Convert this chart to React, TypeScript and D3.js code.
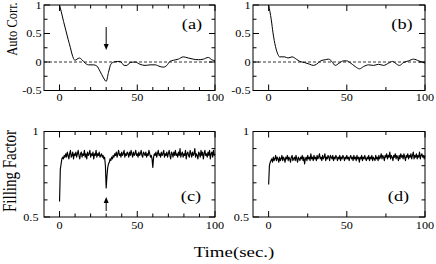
import React from 'react';
import * as d3 from 'd3';

// ---------- data ----------
const acTimeA = [0, 1.3, 2.6, 4, 5.5, 7, 8, 9, 10, 11.2, 12.8, 14.4, 16.5, 18.6, 21.8, 24, 26, 28.3, 30, 31.5, 33, 35, 37.5, 39, 41.6, 43.3, 45.4, 48.6, 51.8, 55, 58.3, 61.5, 64.7, 66.8, 69, 71, 73.2, 76.4, 79.6, 82.8, 86, 89.3, 92.5, 95.7, 97.9, 100];
const acValA = [1, 0.86, 0.71, 0.56, 0.4, 0.25, 0.14, 0.06, 0.03, 0.05, 0.07, 0.04, -0.02, -0.05, -0.05, -0.07, -0.16, -0.28, -0.34, -0.18, -0.04, 0.0, 0.01, 0.01, -0.06, -0.06, -0.01, 0.0, -0.04, -0.06, -0.05, -0.05, -0.08, -0.09, -0.06, 0.01, 0.03, 0.05, 0.09, 0.07, 0.05, 0.04, 0.05, 0.08, 0.04, 0.02];

const acTimeB = [0, 1.7, 2.8, 4.4, 6, 7, 10.3, 12.4, 15, 17.7, 19.9, 23, 26.3, 28.6, 30.6, 33.3, 36.2, 38.3, 40.4, 42.6, 45.1, 47.9, 50, 52, 55.4, 58.1, 60.7, 63.9, 67.1, 70.3, 73.5, 76.7, 79.3, 81, 83.6, 86.3, 89.5, 92.7, 96, 100];
const acValB = [1, 0.74, 0.51, 0.27, 0.13, 0.09, 0.09, 0.07, 0.09, 0.05, 0.01, -0.01, -0.04, -0.06, -0.04, 0.02, 0.04, 0.05, 0.01, -0.06, -0.02, 0.02, 0.02, -0.01, -0.08, -0.12, -0.08, -0.05, -0.06, -0.04, -0.06, -0.02, 0.01, -0.02, -0.06, -0.01, 0.02, 0.05, 0.02, -0.02];

const fillStep = 0.5;
const fillC = [
  0.59, 0.78, 0.81, 0.84, 0.85, 0.84, 0.86, 0.85, 0.87, 0.85,
  0.88, 0.86, 0.84, 0.87, 0.89, 0.85, 0.86, 0.88, 0.84, 0.87,
  0.86, 0.88, 0.85, 0.87, 0.89, 0.86, 0.84, 0.87, 0.88, 0.85,
  0.87, 0.86, 0.89, 0.85, 0.87, 0.84, 0.88, 0.86, 0.87, 0.89,
  0.85, 0.87, 0.86, 0.88, 0.84, 0.87, 0.86, 0.89, 0.85, 0.87,
  0.86, 0.88, 0.85, 0.86, 0.87, 0.85, 0.86, 0.84, 0.85, 0.80,
  0.67, 0.74, 0.79, 0.81, 0.82, 0.84, 0.83, 0.85, 0.84, 0.86,
  0.85, 0.87, 0.86, 0.88, 0.85, 0.87, 0.89, 0.86, 0.87, 0.85,
  0.88, 0.86, 0.87, 0.89, 0.85, 0.87, 0.86, 0.88, 0.87, 0.85,
  0.88, 0.86, 0.89, 0.87, 0.85, 0.88, 0.86, 0.87, 0.89, 0.86,
  0.87, 0.85, 0.88, 0.86, 0.87, 0.89, 0.86, 0.85, 0.88, 0.87,
  0.86, 0.88, 0.85, 0.87, 0.86, 0.89, 0.87, 0.85, 0.86, 0.84,
  0.79, 0.85, 0.87, 0.86, 0.88, 0.85, 0.87, 0.89, 0.86, 0.87,
  0.85, 0.88, 0.86, 0.87, 0.89, 0.85, 0.87, 0.86, 0.88, 0.85,
  0.87, 0.89, 0.86, 0.84, 0.88, 0.87, 0.85, 0.88, 0.86, 0.89,
  0.86, 0.87, 0.85, 0.88, 0.86, 0.90, 0.85, 0.87, 0.88, 0.85,
  0.87, 0.86, 0.89, 0.84, 0.87, 0.88, 0.86, 0.85, 0.89, 0.87,
  0.85, 0.88, 0.86, 0.87, 0.90, 0.85, 0.87, 0.86, 0.84, 0.88,
  0.87, 0.85, 0.89, 0.86, 0.88, 0.84, 0.87, 0.89, 0.86, 0.87,
  0.85, 0.88, 0.86, 0.89, 0.84, 0.87, 0.88, 0.85, 0.89, 0.86,
  0.87,
];
const fillD = [
  0.69, 0.80, 0.82, 0.83, 0.84, 0.82, 0.85, 0.83, 0.84, 0.86,
  0.83, 0.85, 0.84, 0.82, 0.85, 0.83, 0.84, 0.86, 0.83, 0.85,
  0.84, 0.82, 0.85, 0.84, 0.86, 0.83, 0.85, 0.84, 0.82, 0.85,
  0.86, 0.83, 0.84, 0.85, 0.83, 0.86, 0.84, 0.82, 0.85, 0.84,
  0.83, 0.85, 0.84, 0.86, 0.83, 0.85, 0.81, 0.84, 0.85, 0.83,
  0.86, 0.84, 0.85, 0.83, 0.87, 0.84, 0.85, 0.83, 0.86, 0.84,
  0.85, 0.83, 0.86, 0.84, 0.85, 0.87, 0.84, 0.85, 0.83, 0.86,
  0.84, 0.85, 0.87, 0.83, 0.85, 0.84, 0.86, 0.85, 0.83, 0.86,
  0.85, 0.84, 0.86, 0.83, 0.85, 0.84, 0.86, 0.85, 0.83, 0.85,
  0.84, 0.86, 0.83, 0.85, 0.84, 0.86, 0.85, 0.83, 0.85, 0.84,
  0.86, 0.84, 0.85, 0.83, 0.85, 0.86, 0.84, 0.85, 0.83, 0.86,
  0.84, 0.85, 0.83, 0.86, 0.84, 0.85, 0.82, 0.85, 0.84, 0.86,
  0.83, 0.85, 0.84, 0.86, 0.84, 0.83, 0.85, 0.84, 0.86, 0.83,
  0.85, 0.84, 0.86, 0.83, 0.85, 0.84, 0.83, 0.86, 0.84, 0.85,
  0.83, 0.86, 0.84, 0.85, 0.87, 0.84, 0.86, 0.85, 0.83, 0.86,
  0.85, 0.87, 0.84, 0.86, 0.85, 0.88, 0.84, 0.86, 0.85, 0.83,
  0.86, 0.85, 0.87, 0.84, 0.86, 0.85, 0.83, 0.86, 0.84, 0.87,
  0.85, 0.86, 0.84, 0.87, 0.85, 0.83, 0.86, 0.85, 0.87, 0.84,
  0.86, 0.85, 0.87, 0.84, 0.86, 0.88, 0.84, 0.86, 0.85, 0.87,
  0.84, 0.86, 0.85, 0.88, 0.84, 0.86, 0.87, 0.85, 0.86, 0.84,
  0.86,
];

const acYLabels = [-0.5, 0, 0.5, 1];
const acYMinor = [-0.25, 0.25, 0.75];
const ffYLabels = [0.5, 1];
const ffYMinor = [0.6, 0.7, 0.8, 0.9];
const xLabels = [0, 50, 100];
const xMinorAC = [10, 20, 30, 40, 60, 70, 80, 90];
const xMinorBD = [25, 75];
const panelLabels = ['(a)', '(b)', '(c)', '(d)'];
const arrowTime = 30;
const yTitleTop = 'Auto Corr.';
const yTitleBottom = 'Filling Factor';
const xTitle = 'Time(sec.)';

// ---------- layout ----------
const W = 436;
const H = 264;
const SX = 1.22; // horizontal text stretch of the reference
const FONT = '"Liberation Serif", "Times New Roman", serif';

type Pt = [number, number];

function T({ x, y, anchor = 'middle', size = 10, rotate = false, children }: any) {
  const tr = rotate
    ? `translate(${x},${y}) scale(${SX},1) rotate(-90)`
    : `translate(${x},${y}) scale(${SX},1)`;
  return (
    <text transform={tr} textAnchor={anchor} fontSize={size} fontFamily={FONT} fontWeight="normal" fill="#000">
      {children}
    </text>
  );
}

function Panel({ box, yDomain, yLabels, yMinor, xMinor, data, label, labelX, labelY, dashedZero, arrow, smooth, yLabelRight, xLabelBase }: any) {
  const [x0, x1, y0, y1] = box;
  const xs = d3.scaleLinear().domain([-10, 100]).range([x0, x1]);
  const ys = d3.scaleLinear().domain(yDomain).range([y1, y0]);
  const line = d3
    .line<Pt>()
    .x((d) => xs(d[0]))
    .y((d) => ys(d[1]))
    .curve(smooth ? d3.curveMonotoneX : d3.curveLinear);
  const majLen = 6;
  const minLen = 3.5;
  const ticks: any[] = [];
  xLabels.forEach((v: number) => {
    ticks.push(<line key={'xb' + v} x1={xs(v)} x2={xs(v)} y1={y1} y2={y1 - majLen} />);
    ticks.push(<line key={'xt' + v} x1={xs(v)} x2={xs(v)} y1={y0} y2={y0 + majLen} />);
  });
  xMinor.forEach((v: number) => {
    ticks.push(<line key={'xmb' + v} x1={xs(v)} x2={xs(v)} y1={y1} y2={y1 - minLen} />);
    ticks.push(<line key={'xmt' + v} x1={xs(v)} x2={xs(v)} y1={y0} y2={y0 + minLen} />);
  });
  yLabels.forEach((v: number) => {
    ticks.push(<line key={'yl' + v} x1={x0} x2={x0 + majLen} y1={ys(v)} y2={ys(v)} />);
    ticks.push(<line key={'yr' + v} x1={x1} x2={x1 - majLen} y1={ys(v)} y2={ys(v)} />);
  });
  yMinor.forEach((v: number) => {
    ticks.push(<line key={'yml' + v} x1={x0} x2={x0 + minLen} y1={ys(v)} y2={ys(v)} />);
    ticks.push(<line key={'ymr' + v} x1={x1} x2={x1 - minLen} y1={ys(v)} y2={ys(v)} />);
  });
  const down = arrow && arrow.tail < arrow.tip;
  return (
    <g>
      {dashedZero && (
        <line x1={x0} x2={x1} y1={ys(0)} y2={ys(0)} stroke="#000" strokeWidth={0.8} strokeDasharray="3,2" />
      )}
      <path d={line(data) || ''} fill="none" stroke="#000" strokeWidth={smooth ? 1 : 1.15} strokeLinejoin="round" />
      <g stroke="#000" strokeWidth={1}>{ticks}</g>
      <rect x={x0} y={y0} width={x1 - x0} height={y1 - y0} fill="none" stroke="#000" strokeWidth={1} />
      {yLabels.map((v: number) => (
        <T key={'ylab' + v} x={yLabelRight} y={ys(v) + 3.5} anchor="end" size={10}>
          {String(v)}
        </T>
      ))}
      {xLabels.map((v: number) => (
        <T key={'xlab' + v} x={xs(v)} y={xLabelBase} anchor="middle" size={10}>
          {String(v)}
        </T>
      ))}
      <T x={labelX} y={labelY} anchor="middle" size={15}>
        {label}
      </T>
      {arrow && (
        <g>
          <line x1={xs(arrowTime)} x2={xs(arrowTime)} y1={arrow.tail} y2={arrow.tip + (down ? -5 : 5)} stroke="#000" strokeWidth={1} />
          <path
            d={`M${xs(arrowTime)},${arrow.tip} L${xs(arrowTime) - 2.5},${arrow.tip + (down ? -6 : 6)} L${xs(arrowTime) + 2.5},${arrow.tip + (down ? -6 : 6)} Z`}
            fill="#000"
          />
        </g>
      )}
    </g>
  );
}

export default function App() {
  const dataA: Pt[] = acTimeA.map((t, i) => [t, acValA[i]]);
  const dataB: Pt[] = acTimeB.map((t, i) => [t, acValB[i]]);
  const dataC: Pt[] = fillC.map((v, i) => [i * fillStep, v]);
  const dataD: Pt[] = fillD.map((v, i) => [i * fillStep, v]);
  const top = [5, 90.5];
  const bot = [131.5, 217];
  return (
    <svg width={W} height={H} style={{ position: 'absolute', left: 0, top: 0, background: '#fff' }}>
      <rect x={0} y={0} width={W} height={H} fill="#fff" />
      <Panel box={[44, 215, top[0], top[1]]} yDomain={[-0.5, 1]} yLabels={acYLabels} yMinor={acYMinor} xMinor={xMinorAC}
        data={dataA} label={panelLabels[0]} labelX={192} labelY={29} dashedZero arrow={{ tail: 27, tip: 50 }} smooth yLabelRight={41.5} xLabelBase={101} />
      <Panel box={[253, 425, top[0], top[1]]} yDomain={[-0.5, 1]} yLabels={acYLabels} yMinor={acYMinor} xMinor={xMinorBD}
        data={dataB} label={panelLabels[1]} labelX={402} labelY={29} dashedZero smooth yLabelRight={250.5} xLabelBase={101} />
      <Panel box={[44, 215, bot[0], bot[1]]} yDomain={[0.5, 1]} yLabels={ffYLabels} yMinor={ffYMinor} xMinor={xMinorAC}
        data={dataC} label={panelLabels[2]} labelX={191} labelY={201} arrow={{ tail: 211, tip: 197 }} yLabelRight={38.5} xLabelBase={229} />
      <Panel box={[253, 425, bot[0], bot[1]]} yDomain={[0.5, 1]} yLabels={ffYLabels} yMinor={ffYMinor} xMinor={xMinorBD}
        data={dataD} label={panelLabels[3]} labelX={398.5} labelY={201} yLabelRight={249} xLabelBase={229} />
      <T x={17} y={29} size={12.5} rotate>{yTitleTop}</T>
      <T x={15.5} y={171} size={15} rotate>{yTitleBottom}</T>
      <T x={234} y={257} size={15.5}>{xTitle}</T>
    </svg>
  );
}
